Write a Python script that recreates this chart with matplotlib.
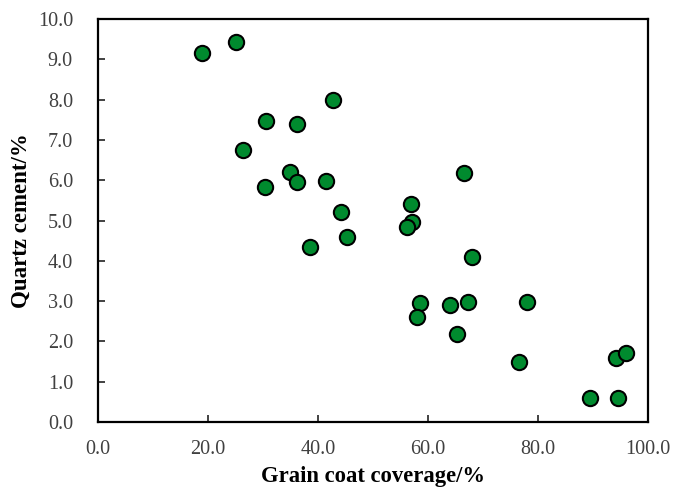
import numpy as np
import matplotlib.pyplot as plt

# grain coat coverage (%) vs quartz cement (%)
coverage = [18.9, 25.0, 42.8, 30.6, 36.2, 26.4, 34.9, 36.2, 30.4, 41.4, 44.2, 45.3, 38.6,
            56.9, 57.0, 56.1, 66.5, 67.9, 58.5, 58.0, 63.9, 67.3, 65.2, 78.0, 76.6,
            89.4, 94.5, 94.2, 96.0]
cement = [9.16, 9.42, 7.99, 7.48, 7.40, 6.74, 6.20, 5.95, 5.84, 5.98, 5.21, 4.59, 4.35,
          5.42, 4.97, 4.85, 6.18, 4.10, 2.96, 2.61, 2.90, 2.98, 2.18, 2.98, 1.48,
          0.60, 0.60, 1.60, 1.72]

xticks = np.arange(0, 101, 20)
yticks = np.arange(0, 10.1, 1)

plt.rcParams['font.family'] = ['Liberation Serif', 'DejaVu Serif']

fig = plt.figure(figsize=(6.73, 4.9), dpi=100)
ax = fig.add_axes([0.1456, 0.1388, 0.8174, 0.8222])

ax.plot(coverage, cement, 'o', color='#008A2E', markeredgecolor='black',
        markeredgewidth=1.5, markersize=11, linestyle='none')

ax.set_xlim(0, 100)
ax.set_ylim(0, 10)
ax.set_xticks(xticks)
ax.set_yticks(yticks)
ax.set_xticklabels([f"{v:.1f}" for v in xticks])
ax.set_yticklabels([f"{v:.1f}" for v in yticks])
ax.tick_params(direction='in', length=5, width=1.3, labelsize=14.5, colors='#333333',
               labelcolor='#404040')
ax.tick_params(axis='x', pad=13)
ax.tick_params(axis='y', pad=18)
for s in ax.spines.values():
    s.set_linewidth(1.6)

ax.set_xlabel("Grain coat coverage/%", fontsize=16.3, fontweight='bold', labelpad=5)
ax.set_ylabel("Quartz cement/%", fontsize=16.5, fontweight='bold', labelpad=4)

fig.savefig("out.png", dpi=100)
